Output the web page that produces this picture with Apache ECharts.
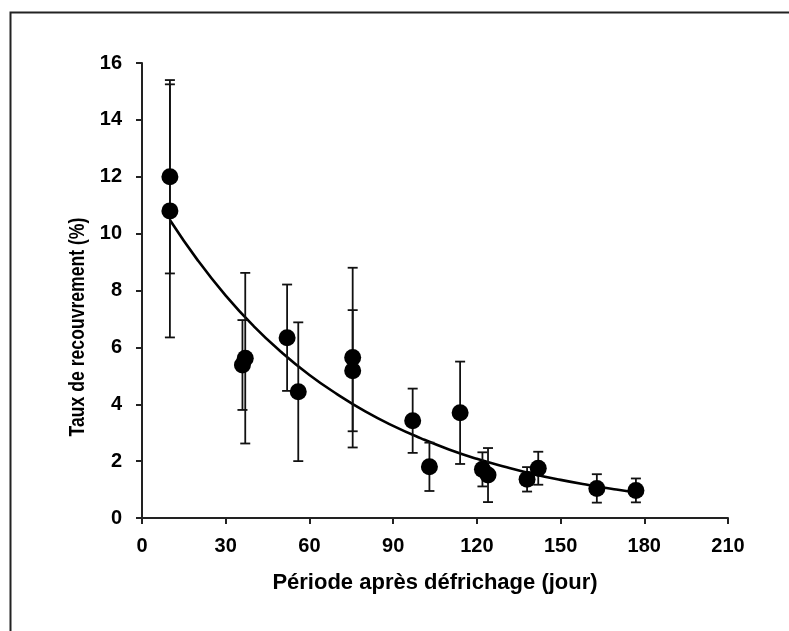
<!DOCTYPE html>
<html>
<head>
<meta charset="utf-8">
<script src="https://cdn.jsdelivr.net/npm/echarts@6/dist/echarts.min.js"></script>
<style>
  html, body { margin: 0; padding: 0; background: #fff; }
  #chart { width: 789px; height: 631px; }
</style>
</head>
<body>
<div id="chart"></div>
<script>
// measured points (day, cover %) and their error bar half-widths
const days = [10, 10, 36, 37, 52, 56, 75.5, 75.5, 97, 103, 114, 122, 124, 138, 142, 163, 177];
const cover = [12.0, 10.8, 5.38, 5.62, 6.34, 4.44, 5.18, 5.64, 3.42, 1.8, 3.7, 1.71, 1.51, 1.36, 1.75, 1.04, 0.97];
const coverErr = [3.4, 4.45, 1.58, 3.0, 1.87, 2.44, 2.13, 3.16, 1.13, 0.85, 1.8, 0.6, 0.95, 0.43, 0.58, 0.5, 0.42];

// trend curve
const trendDays = [10, 20, 30, 40, 50, 60, 70, 80, 90, 100, 110, 120, 130, 140, 150, 160, 170, 177];
const trendCover = [10.48, 9.06, 7.82, 6.75, 5.83, 5.03, 4.35, 3.75, 3.24, 2.8, 2.41, 2.08, 1.8, 1.55, 1.34, 1.16, 1.0, 0.9];

const xTitle = "Période après défrichage (jour)";
const yTitle = "Taux de recouvrement (%)";

const ink = "#000";
const font = '"Liberation Sans", Arial, sans-serif';

const points = days.map((d, i) => [d, cover[i]]);
const bars = days.map((d, i) => [d, cover[i] - coverErr[i], cover[i] + coverErr[i]]);
const trend = trendDays.map((d, i) => [d, trendCover[i]]);

function renderErrorBar(params, api) {
  const x = api.value(0);
  const lo = api.coord([x, api.value(1)]);
  const hi = api.coord([x, api.value(2)]);
  const half = 5;
  const style = { stroke: "#111", lineWidth: 1.8 };
  return {
    type: "group",
    children: [
      { type: "line", shape: { x1: lo[0], y1: lo[1], x2: hi[0], y2: hi[1] }, style },
      { type: "line", shape: { x1: hi[0] - half, y1: hi[1], x2: hi[0] + half, y2: hi[1] }, style },
      { type: "line", shape: { x1: lo[0] - half, y1: lo[1], x2: lo[0] + half, y2: lo[1] }, style },
    ],
  };
}

const chart = echarts.init(document.getElementById("chart"), null, { renderer: "canvas" });

chart.setOption({
  animation: false,
  backgroundColor: "#fff",
  grid: { left: 142, right: 61, top: 63, bottom: 113, containLabel: false },
  xAxis: {
    type: "value",
    min: 0,
    max: 210,
    interval: 30,
    name: xTitle,
    nameLocation: "middle",
    nameGap: 54,
    nameTextStyle: { color: ink, fontFamily: font, fontWeight: "bold", fontSize: 22 },
    axisLine: { lineStyle: { color: "#222", width: 2 } },
    axisTick: { length: 6, lineStyle: { color: "#222", width: 2 } },
    axisLabel: { color: ink, fontFamily: font, fontWeight: "bold", fontSize: 20, margin: 18 },
    splitLine: { show: false },
  },
  yAxis: {
    type: "value",
    min: 0,
    max: 16,
    interval: 2,
    axisLine: { show: true, lineStyle: { color: "#222", width: 2 } },
    axisTick: { show: true, length: 6, lineStyle: { color: "#222", width: 2 } },
    axisLabel: { color: ink, fontFamily: font, fontWeight: "bold", fontSize: 20, margin: 20 },
    splitLine: { show: false },
  },
  graphic: [
    {
      type: "rect",
      left: 8,
      top: 10,
      shape: { width: 800, height: 640 },
      style: { fill: "none", stroke: "#222", lineWidth: 2 },
      silent: true,
    },
    {
      type: "text",
      x: 78,
      y: 327,
      rotation: Math.PI / 2,
      scaleX: 0.8,
      style: {
        text: yTitle,
        fill: ink,
        font: "bold 22px " + font,
        align: "center",
        verticalAlign: "middle",
      },
    },
  ],
  series: [
    {
      type: "line",
      data: trend,
      smooth: true,
      showSymbol: false,
      lineStyle: { color: ink, width: 2.6 },
      z: 2,
    },
    {
      type: "custom",
      data: bars,
      renderItem: renderErrorBar,
      encode: { x: 0, y: [1, 2] },
      z: 3,
    },
    {
      type: "scatter",
      data: points,
      symbol: "circle",
      symbolSize: 17,
      itemStyle: { color: ink, opacity: 1 },
      z: 4,
    },
  ],
});
</script>
</body>
</html>
